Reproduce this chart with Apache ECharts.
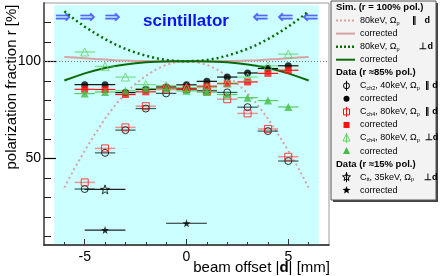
<!DOCTYPE html>
<html><head><meta charset="utf-8">
<script src="https://cdn.jsdelivr.net/npm/echarts@6/dist/echarts.min.js"></script>
<style>html,body{margin:0;padding:0;background:#fff}#c{width:440px;height:276px}</style>
</head><body><div id="c"></div>
<script>
// ---------------- data ----------------
const offsets      = [-5, -4, -3, -2, -1, 0, 1, 2, 3, 4, 5];
const ch2Raw       = [34.3, 52.9, 64.6, 75.7, 83.5, 85.5, 85.0, 84.0, 76.4, 64.1, 48.7];
const ch2Corr      = [88.0, 88.0, 83.9, 85.5, 86.8, 87.9, 89.7, 91.9, 94.0, 96.3, 97.7];
const ch4ParRaw    = [37.7, 55.2, 66.0, 76.9, 85.5, 85.8, 84.5, 80.5, 73.2, 65.2, 50.9];
const ch4ParCorr   = [85.6, 85.5, 82.9, 84.3, 86.3, 86.0, 87.2, 88.5, 89.4, 93.8, 95.4];
const ch4PerpRaw   = [104.8, 97.4, 91.9, 88.0, 87.5, 86.5, 86.5, 88.8, 91.9, 97.7, 103.7];
const ch4PerpCorr  = [83.4, 84.2, 84.8, 86.0, 86.2, 84.8, 84.2, 82.9, 81.3, 79.8, 76.5];
const ttOffsets    = [-4];
const ttRaw        = [34.1];
const ttCorrOffsets= [-4, 0];
const ttCorr       = [13.2, 16.7];
const simX         = [-6, -5.5, -5, -4.5, -4, -3.5, -3, -2.5, -2, -1.5, -1, -0.5, 0, 0.5, 1, 1.5, 2, 2.5, 3, 3.5, 4, 4.5, 5, 5.5, 6];
const simParRaw    = [35, 45, 54, 62.5, 70.5, 77.5, 83.5, 88.5, 92.5, 95.8, 98.2, 99.6, 100, 99.6, 98.2, 95.8, 92.5, 88.5, 83.5, 77.5, 70.5, 62.5, 54, 45, 35];
const simParCorr   = [102.2, 101.9, 101.6, 101.2, 100.9, 100.6, 100.4, 100.2, 100.1, 100.0, 100, 100, 100, 100, 100, 100.0, 100.1, 100.2, 100.4, 100.6, 100.9, 101.2, 101.6, 101.9, 102.2];
const simPerpRaw   = [125.8, 121.6, 117.8, 114.5, 111.4, 108.7, 106.4, 104.5, 102.9, 101.6, 100.7, 100.2, 100, 100.2, 100.7, 101.6, 102.9, 104.5, 106.4, 108.7, 111.4, 114.5, 117.8, 121.6, 125.8];
const simPerpCorr  = [90.1, 92.0, 93.8, 95.3, 96.6, 97.6, 98.4, 99.0, 99.5, 99.8, 99.9, 100, 100, 100, 99.9, 99.8, 99.5, 99.0, 98.4, 97.6, 96.6, 95.3, 93.8, 92.0, 90.1];
const xMinorTicks  = [-6, -5, -4, -3, -2, -1, 0, 1, 2, 3, 4, 5, 6];
const xMajorTicks  = [-5, 0, 5];
const yMinorTicks  = [10, 20, 30, 40, 50, 60, 70, 80, 90, 100, 110, 120];
const yMajorTicks  = [50, 100];
const scintRange   = [-6.5, 6.5];

// ---------------- helpers ----------------
const FF = '"Liberation Sans", Arial, sans-serif';
const pairs = (xs, ys) => xs.map((x, i) => [x, ys[i]]);
const STAR = 'path://M0,-10L2.35,-3.24L9.51,-3.09L3.8,1.24L5.88,8.09L0,4L-5.88,8.09L-3.8,1.24L-9.51,-3.09L-2.35,-3.24Z';

function errBar(xs, ys, half, color, width) {
  return {
    type: 'custom', silent: true, z: 10,
    data: pairs(xs, ys),
    renderItem: (params, api) => {
      const x = api.value(0), y = api.value(1);
      const a = api.coord([x - half, y]), b = api.coord([x + half, y]);
      return { type: 'line', shape: { x1: a[0], y1: a[1], x2: b[0], y2: b[1] },
               style: { stroke: color, lineWidth: width } };
    }
  };
}
function pts(xs, ys, symbol, size, fill, stroke, bw) {
  return {
    type: 'scatter', z: 11, silent: true, data: pairs(xs, ys),
    symbol: symbol, symbolSize: size,
    itemStyle: { color: fill, borderColor: stroke, borderWidth: bw }
  };
}
function simLine(ys, color, width, type) {
  return { type: 'line', z: 9, silent: true, data: pairs(simX, ys), showSymbol: false, symbol: 'none',
           lineStyle: { color: color, width: width, type: type } };
}

const PINK = '#d8a2a2', DGREEN = '#0a6a0a', RED = '#ff1010', GREEN = '#44bb44', LGREEN = '#66d066';
const NONE = 'rgba(0,0,0,0)';

// ---------------- legend (graphic) ----------------
const rich = {
  n: { fontSize: 9, fontFamily: FF, color: '#000', lineHeight: 11 },
  b: { fontSize: 9, fontFamily: FF, color: '#000', fontWeight: 'bold', lineHeight: 11 },
  s: { fontSize: 5.5, fontFamily: FF, color: '#000', verticalAlign: 'bottom', lineHeight: 11, padding: [0, 0, 0, 0] }
};
const rows = [
  { h: 'Sim. (r = 100% pol.)' },
  { icon: 'line', c: PINK, w: 2, dash: [2, 2], t: '{n|80keV, Ω}{s|p}{n|     }{b|∥}{n|   }{b|d}' },
  { icon: 'line', c: PINK, w: 2, t: '{n|corrected}' },
  { icon: 'line', c: DGREEN, w: 2.5, dash: [2, 2], t: '{n|80keV, Ω}{s|p}{n|        }{b|⊥d}' },
  { icon: 'line', c: DGREEN, w: 2, t: '{n|corrected}' },
  { h: 'Data (r ≈85% pol.)' },
  { icon: 'circle', open: true, c: '#000', t: '{n|C}{s|ch2}{n|, 40keV, Ω}{s|p}{n|  }{b|∥}{n| }{b|d}' },
  { icon: 'circle', c: '#000', t: '{n|corrected}' },
  { icon: 'rect', open: true, c: RED, t: '{n|C}{s|ch4}{n|, 80keV, Ω}{s|p}{n|  }{b|∥}{n| }{b|d}' },
  { icon: 'rect', c: RED, t: '{n|corrected}' },
  { icon: 'tri', open: true, c: LGREEN, t: '{n|C}{s|ch4}{n|, 80keV, Ω}{s|p}{n|  }{b|⊥d}' },
  { icon: 'tri', c: GREEN, t: '{n|corrected}' },
  { h: 'Data (r ≈15% pol.)' },
  { icon: 'star', open: true, c: '#000', t: '{n|C}{s|tt}{n|, 35keV, Ω}{s|p}{n|    }{b|⊥d}' },
  { icon: 'star', c: '#000', t: '{n|corrected}' }
];
function starPts(cx, cy, R) {
  const p = [];
  for (let i = 0; i < 10; i++) {
    const r = i % 2 ? R * 0.42 : R, a = -Math.PI / 2 + i * Math.PI / 5;
    p.push([cx + r * Math.cos(a), cy + r * Math.sin(a)]);
  }
  return p;
}
const legendEls = [
  { type: 'rect', shape: { x: 333, y: 3, width: 105, height: 199 }, style: { fill: '#444' }, z: 20 },
  { type: 'rect', shape: { x: 331, y: 1, width: 105, height: 199 }, style: { fill: '#f3f3f3', stroke: '#555', lineWidth: 1 }, z: 21 }
];
rows.forEach((r, i) => {
  const y = 7.5 + i * 13.05;
  if (r.h) {
    legendEls.push({ type: 'text', z: 22, x: 336, y: y,
      style: { text: r.h, font: 'bold 9.5px ' + FF, fill: '#000', verticalAlign: 'middle', align: 'left' } });
    return;
  }
  const cx = 346.5;
  if (r.icon === 'line') {
    legendEls.push({ type: 'line', z: 22, shape: { x1: 336, y1: y, x2: 355, y2: y },
      style: { stroke: r.c, lineWidth: r.w, lineDash: r.dash || null } });
  } else {
    if (r.open) {
      legendEls.push({ type: 'line', z: 22, shape: { x1: cx, y1: y - 5, x2: cx, y2: y + 5 },
        style: { stroke: r.c, lineWidth: 1 } });
    }
    const st = r.open ? { fill: NONE, stroke: r.c, lineWidth: 1 } : { fill: r.c };
    if (r.icon === 'circle') legendEls.push({ type: 'circle', z: 23, shape: { cx: cx, cy: y, r: 3 }, style: st });
    if (r.icon === 'rect') legendEls.push({ type: 'rect', z: 23, shape: { x: cx - 3, y: y - 3, width: 6, height: 6 }, style: st });
    if (r.icon === 'tri') legendEls.push({ type: 'polygon', z: 23, shape: { points: [[cx, y - 4], [cx + 3.5, y + 3], [cx - 3.5, y + 3]] }, style: st });
    if (r.icon === 'star') legendEls.push({ type: 'polygon', z: 23, shape: { points: starPts(cx, y, 4.2) }, style: st });
  }
  legendEls.push({ type: 'text', z: 22, x: 360, y: y,
    style: { text: r.t, rich: rich, verticalAlign: 'middle', align: 'left' } });
});

// annotations
const annot = [];
[63, 87.5, 112.5].forEach(x => annot.push({ type: 'text', z: 5, x: x, y: 18,
  style: { text: '⇒', font: '19px "DejaVu Sans"', fill: '#5566ff', stroke: '#2233ee', lineWidth: 0.3, align: 'center', verticalAlign: 'middle' } }));
[260.5, 285.5, 310.5].forEach(x => annot.push({ type: 'text', z: 5, x: x, y: 18,
  style: { text: '⇐', font: '19px "DejaVu Sans"', fill: '#5566ff', stroke: '#2233ee', lineWidth: 0.3, align: 'center', verticalAlign: 'middle' } }));
annot.push({ type: 'text', z: 5, x: 186, y: 21,
  style: { text: 'scintillator', font: 'bold 17px ' + FF, fill: '#0a14f0', align: 'center', verticalAlign: 'middle' } });
annot.push({ type: 'text', z: 5, x: 12, y: 87, rotation: Math.PI / 2,
  style: { text: 'polarization fraction r [%]', font: '15px ' + FF, fill: '#000', align: 'center', verticalAlign: 'middle' } });
annot.push({ type: 'text', z: 5, x: 330, y: 268,
  style: { text: '{n|beam offset |}{b|d}{n|| [mm]}', align: 'right', verticalAlign: 'middle',
    rich: { n: { fontSize: 15, fontFamily: FF, color: '#000' }, b: { fontSize: 15, fontFamily: FF, fontWeight: 'bold', color: '#000' } } } });

// ---------------- chart ----------------
const chart = echarts.init(document.getElementById('c'), null, { renderer: 'canvas' });
const axCommonX = { type: 'value', min: -7, max: 7, position: 'bottom', splitLine: { show: false }, z: 3 };
const axCommonY = { type: 'value', min: 5.5, max: 130, position: 'left', splitLine: { show: false }, z: 3 };
chart.setOption({
  animation: false,
  backgroundColor: '#fff',
  grid: { left: 44, right: 111, top: 3, bottom: 31, show: true, borderColor: '#9a9a9a', borderWidth: 1, backgroundColor: '#fff' },
  xAxis: [
    Object.assign({}, axCommonX, {
      axisLine: { show: true, onZero: false, lineStyle: { color: '#222', width: 1.5 } },
      axisTick: { show: true, inside: true, length: 3, customValues: xMinorTicks, lineStyle: { color: '#333' } },
      axisLabel: { show: false }
    }),
    Object.assign({}, axCommonX, {
      axisLine: { show: false, onZero: false },
      axisTick: { show: true, inside: true, length: 6, customValues: xMajorTicks, lineStyle: { color: '#333' } },
      axisLabel: { show: true, customValues: xMajorTicks, margin: 5, fontSize: 14, fontFamily: FF, color: '#000' }
    })
  ],
  yAxis: [
    Object.assign({}, axCommonY, {
      axisLine: { show: true, onZero: false, lineStyle: { color: '#666', width: 2 } },
      axisTick: { show: true, inside: true, length: 7, customValues: yMinorTicks, lineStyle: { color: '#222' } },
      axisLabel: { show: false }
    }),
    Object.assign({}, axCommonY, {
      axisLine: { show: false, onZero: false },
      axisTick: { show: true, inside: true, length: 12, customValues: yMajorTicks, lineStyle: { color: '#000', width: 1.2 } },
      axisLabel: { show: true, customValues: yMajorTicks, margin: 3, fontSize: 14, fontFamily: FF, color: '#000' }
    })
  ],
  graphic: { elements: annot.concat(legendEls) },
  series: [
    { type: 'line', z: 1, data: [], silent: true,
      markArea: { silent: true, itemStyle: { color: '#ccffff' },
        data: [[{ xAxis: scintRange[0], yAxis: 5.5 }, { xAxis: scintRange[1], yAxis: 128.8 }]] },
      markLine: { silent: true, symbol: 'none', label: { show: false },
        lineStyle: { color: '#777', type: [1, 2], width: 1 }, data: [{ yAxis: 100 }] } },
    simLine(simParRaw, PINK, 2, [2, 3]),
    simLine(simParCorr, PINK, 2, 'solid'),
    simLine(simPerpRaw, DGREEN, 2.5, [2, 3]),
    simLine(simPerpCorr, DGREEN, 2, 'solid'),
    errBar(offsets, ch2Raw, 0.5, 'rgba(0,40,40,0.75)', 1.2),
    pts(offsets, ch2Raw, 'circle', 7, NONE, '#000', 1),
    errBar(offsets, ch2Corr, 0.5, '#111', 1.2),
    pts(offsets, ch2Corr, 'circle', 7, '#000', '#000', 0),
    errBar(offsets, ch4ParRaw, 0.5, 'rgba(255,60,60,0.55)', 1.5),
    pts(offsets, ch4ParRaw, 'rect', 7, NONE, RED, 1),
    errBar(offsets, ch4ParCorr, 0.5, RED, 1.2),
    pts(offsets, ch4ParCorr, 'rect', 7, RED, RED, 0),
    errBar(offsets, ch4PerpRaw, 0.5, 'rgba(60,200,60,0.6)', 1.2),
    pts(offsets, ch4PerpRaw, 'triangle', 8, NONE, LGREEN, 1),
    errBar(offsets, ch4PerpCorr, 0.5, 'rgba(60,190,60,0.8)', 1.2),
    pts(offsets, ch4PerpCorr, 'triangle', 8, GREEN, GREEN, 0),
    errBar(ttOffsets, ttRaw, 1, '#222', 1.2),
    pts(ttOffsets, ttRaw, STAR, 9, NONE, '#000', 1),
    errBar(ttCorrOffsets, ttCorr, 1, '#222', 1.2),
    pts(ttCorrOffsets, ttCorr, STAR, 8, '#000', '#000', 0)
  ]
});
</script></body></html>
